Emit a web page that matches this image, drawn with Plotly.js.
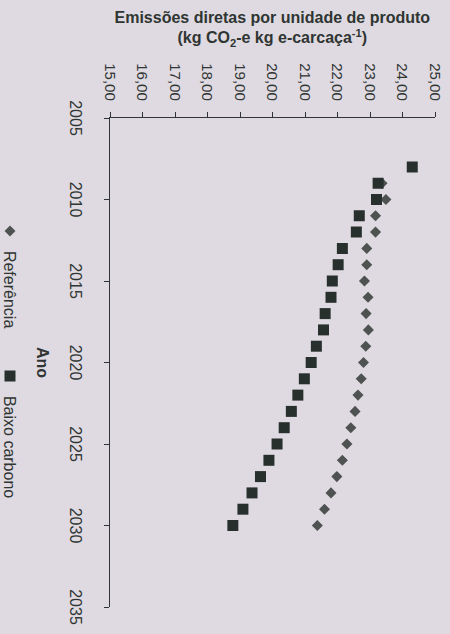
<!DOCTYPE html>
<html>
<head>
<meta charset="utf-8">
<script src="https://cdn.plot.ly/plotly-3.0.1.min.js"></script>
<style>
  html, body { margin: 0; padding: 0; width: 450px; height: 634px; overflow: hidden; background: #dfdae1; }
  #wrap { position: absolute; top: 0; left: 0; width: 634px; height: 480px;
          transform-origin: 0 0; transform: translate(450px, 0) rotate(90deg); }
</style>
</head>
<body>
<div id="wrap"></div>
<script>
// Years and values read from the (rotated) reference chart
const refYears = [2009, 2010, 2011, 2012, 2013, 2014, 2015, 2016, 2017, 2018, 2019,
                  2020, 2021, 2022, 2023, 2024, 2025, 2026, 2027, 2028, 2029, 2030];
const refValues = [23.37, 23.49, 23.17, 23.17, 22.90, 22.90, 22.83, 22.94, 22.88, 22.95, 22.87,
                   22.80, 22.73, 22.63, 22.54, 22.41, 22.29, 22.15, 21.98, 21.80, 21.60, 21.38];

const lowYears = [2008, 2009, 2010, 2011, 2012, 2013, 2014, 2015, 2016, 2017, 2018, 2019,
                  2020, 2021, 2022, 2023, 2024, 2025, 2026, 2027, 2028, 2029, 2030];
const lowValues = [24.30, 23.25, 23.20, 22.67, 22.58, 22.15, 22.02, 21.84, 21.80, 21.62, 21.57, 21.35,
                   21.19, 20.98, 20.78, 20.58, 20.36, 20.14, 19.89, 19.63, 19.37, 19.09, 18.78];

const seriesNames = ['Referência', 'Baixo carbono'];
const yearTicks = [2005, 2010, 2015, 2020, 2025, 2030, 2035];
const valueTicks = [15, 16, 17, 18, 19, 20, 21, 22, 23, 24, 25];

const txt = '#2f3532';
const font = 'Liberation Sans, Arial, sans-serif';

const traces = [
  { x: refYears, y: refValues, name: seriesNames[0], type: 'scatter', mode: 'markers',
    marker: { symbol: 'diamond', size: 8.5, color: '#4e5250' } },
  { x: lowYears, y: lowValues, name: seriesNames[1], type: 'scatter', mode: 'markers',
    marker: { symbol: 'square', size: 11, color: '#28302d' } }
];

// The figure is drawn landscape (634 x 480) and turned 90 degrees clockwise;
// the last 30 px of its height fall outside the 450 px wide window.
const layout = {
  width: 634, height: 480,
  margin: { l: 118, r: 27, t: 15, b: 140 },
  paper_bgcolor: '#dfdae1', plot_bgcolor: '#dfdae1',
  font: { family: font, color: txt, size: 16 },
  separators: ',.',
  showlegend: true,
  xaxis: {
    range: [2005, 2035], tickvals: yearTicks, ticks: 'outside', ticklen: 5, tickwidth: 1,
    tickcolor: txt, showline: true, linecolor: txt, linewidth: 1.2, showgrid: false, zeroline: false,
    tickfont: { size: 16, color: txt, family: font }, ticklabelstandoff: 15, automargin: false
  },
  yaxis: {
    range: [15, 25], tickvals: valueTicks, tickformat: '.2f', ticks: 'outside', ticklen: 5, tickwidth: 1,
    tickcolor: txt, showline: true, linecolor: txt, linewidth: 1.2, showgrid: false, zeroline: false,
    tickfont: { size: 15, color: txt, family: font }, ticklabelstandoff: 8, automargin: false
  },
  legend: {
    orientation: 'h', x: 0.19, xanchor: 'left', y: -0.308, yanchor: 'middle',
    bgcolor: 'rgba(0,0,0,0)', font: { size: 16, color: txt, family: font }, entrywidth: 100
  },
  annotations: [
    { xref: 'paper', yref: 'paper', x: 0, y: 0.5, xshift: -90, xanchor: 'center', yanchor: 'middle',
      textangle: -90, showarrow: false,
      text: '<b>Emissões diretas por unidade de produto<br>(kg CO<sub>2</sub>-e kg e-carcaça<sup>-1</sup>)</b>',
      font: { size: 16, color: txt, family: font } },
    { xref: 'paper', yref: 'paper', x: 0.5, y: 0, yshift: -67, xanchor: 'center', yanchor: 'middle',
      showarrow: false, text: '<b>Ano</b>', font: { size: 16, color: txt, family: font } }
  ]
};

Plotly.newPlot('wrap', traces, layout, { displayModeBar: false, staticPlot: true });
</script>
</body>
</html>
